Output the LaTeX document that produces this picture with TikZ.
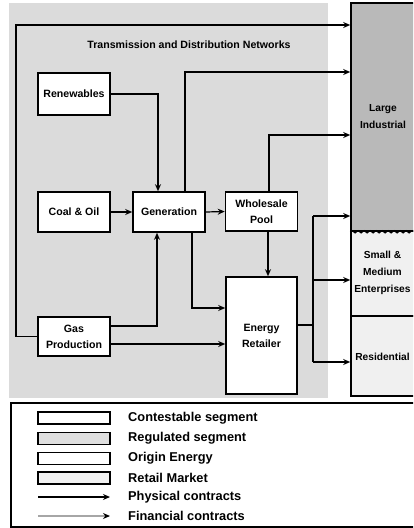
\documentclass[tikz,border=0pt]{standalone}
\usepackage{fontspec}
\setmainfont{Liberation Sans}
\usetikzlibrary{arrows.meta,decorations.pathmorphing,calc}
\begin{document}
\begin{tikzpicture}[x=1pt,y=-1pt,
  box/.style={draw,line width=1.6pt,fill=white,minimum width=72,font=\fontsize{10.6}{16}\selectfont\bfseries,align=center,inner sep=0pt},
  seg/.style={draw,line width=1.6pt,minimum width=89,inner sep=0pt},
  txt/.style={font=\fontsize{10.6}{17}\selectfont\bfseries,align=center,inner sep=0pt},
  segtxt/.style={font=\fontsize{10.2}{17}\selectfont\bfseries,align=center,inner sep=0pt},
  conn/.style={line width=1.2pt,-{Stealth[length=7pt,width=6pt]}},
  plain/.style={line width=1.2pt},
  swatch/.style={draw,line width=1.5pt,minimum width=72,minimum height=12,inner sep=0pt},
  lbl/.style={font=\fontsize{12.8}{14}\selectfont\bfseries,anchor=west,inner sep=0pt}]
\useasboundingbox (0,0) rectangle (413,528);
\clip (0,0) rectangle (413,528);
% stippled background
\fill[gray!28] (9,3) rectangle (328,398);
% right panel
\node[seg,fill=gray!55,minimum height=228] (li) at (395.5,117) {};
\node[seg,fill=gray!12,minimum height=85] (sme) at (395.5,273.5) {};
\node[seg,fill=gray!12,minimum height=80] (res) at (395.5,356) {};
\draw[line width=1pt,decorate,decoration={snake,amplitude=1.2pt,segment length=6pt}] (li.south west) -- (li.south east);
\node[segtxt] (lil) at (383,117) {Large\\Industrial};
\node[segtxt] (smel) at (382.5,273) {Small \&\\Medium\\Enterprises};
\node[segtxt] (resl) at (382.5,357) {Residential};
% title of networks
\node[txt] (tdn) at (189,45) {Transmission and Distribution Networks};
% boxes
\node[box,minimum height=42] (ren) at (74,94) {Renewables};
\node[box,minimum height=40] (coal) at (74,212) {Coal \& Oil};
\node[box,minimum height=40] (gen) at (169,212) {Generation};
\node[box,minimum height=39] (whole) at (261.5,211.5) {Wholesale\\Pool};
\node[box,minimum height=39] (gas) at (74,336.5) {Gas\\Production};
\node[box,minimum height=117,minimum width=71] (ret) at (261.5,335.5) {Energy\\Retailer};
% connectors
\coordinate (tl) at (16,25);
\draw[conn] (gas.west) -| (tl) -- (tl -| li.west);
\coordinate (g1) at (185,72);
\draw[conn] (g1 |- gen.north) -- (g1) -- (g1 -| li.west);
\coordinate (r1) at (158,95);
\draw[conn] (ren.east) -| (r1 |- gen.north);
\draw[conn] (coal.east) -- (gen.west);
\coordinate (p1) at (157,326);
\draw[conn] (p1 -| gas.east) -| (p1 |- gen.south);
\coordinate (p2) at (0,344);
\draw[conn] (p2 -| gas.east) -- (p2 -| ret.west);
\coordinate (p3) at (192,308);
\draw[conn] (p3 |- gen.south) |- (p3 -| ret.west);
\draw[conn] (gen.east) -- (whole.west);
\coordinate (w1) at (269,135);
\draw[conn] (w1 |- whole.north) -- (w1) -- (w1 -| li.west);
\coordinate (w2) at (268,0);
\draw[conn] (w2 |- whole.south) -- (w2 |- ret.north);
\coordinate (e1) at (313,325);
\coordinate (e2) at (313,216);
\coordinate (e3) at (313,280);
\coordinate (e4) at (313,362);
\draw[plain] (e1 -| ret.east) -- (e1);
\draw[plain] (e2) -- (e4);
\draw[conn] (e2) -- (e2 -| li.west);
\draw[conn] (e3) -- (e3 -| sme.west);
\draw[conn] (e4) -- (e4 -| res.west);
% legend
\draw[line width=1.2pt,fill=white] (11,403) rectangle (430,527);
\node[swatch,fill=white] (s1) at (74,418) {};
\node[swatch,fill=gray!25,line width=1.2pt] (s2) at (74,438.5) {};
\node[swatch,fill=white] (s3) at (74,458.5) {};
\node[swatch,fill=gray!10,line width=1.2pt] (s4) at (74,478) {};
\coordinate (a1s) at (38,497); \coordinate (a1e) at (110,497);
\coordinate (a2s) at (38,516); \coordinate (a2e) at (110,516);
\draw[conn] (a1s) -- (a1e);
\draw[line width=1.2pt,draw=gray!70,-{Stealth[length=7pt,width=6pt,color=black]}] (a2s) -- (a2e);
\node[lbl] (l1) at (128,418) {Contestable segment};
\node[lbl] (l2) at (128,438.5) {Regulated segment};
\node[lbl] (l3) at (128,458.5) {Origin Energy};
\node[lbl] (l4) at (128,478) {Retail Market};
\node[lbl] (l5) at (128,497) {Physical contracts};
\node[lbl] (l6) at (128,516) {Financial contracts};
\end{tikzpicture}
\end{document}
